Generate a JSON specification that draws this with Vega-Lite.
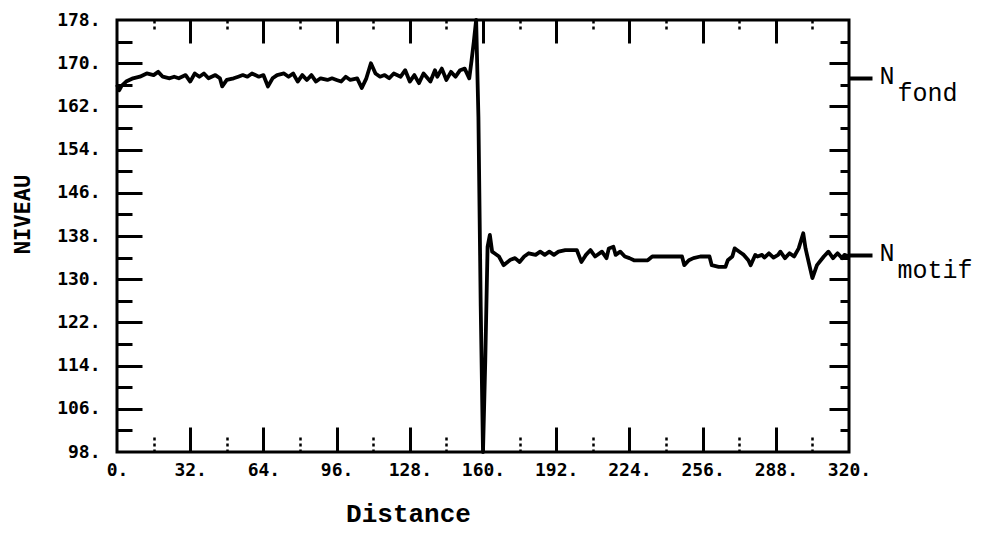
{
  "$schema": "https://vega.github.io/schema/vega-lite/v6.json",
  "width": 732,
  "height": 432,
  "autosize": {"type": "none"},
  "padding": {"left": 117, "top": 20, "right": 142, "bottom": 81},
  "background": "white",
  "config": {
    "view": {"stroke": "black", "strokeWidth": 3},
    "axis": {"grid": false, "domain": false, "tickColor": "black", "labelColor": "black", "titleColor": "black"}
  },
  "data": {
    "values": [
      {"d": 0, "niveau": 166.0}, {"d": 1, "niveau": 165.0}, {"d": 2, "niveau": 165.8}, {"d": 4, "niveau": 166.6},
      {"d": 7, "niveau": 167.2}, {"d": 10, "niveau": 167.5}, {"d": 13, "niveau": 168.1}, {"d": 16, "niveau": 167.8},
      {"d": 18, "niveau": 168.4}, {"d": 20, "niveau": 167.5}, {"d": 23, "niveau": 167.2}, {"d": 25, "niveau": 167.5},
      {"d": 27, "niveau": 167.2}, {"d": 30, "niveau": 167.8}, {"d": 32, "niveau": 166.6}, {"d": 34, "niveau": 168.1},
      {"d": 36, "niveau": 167.5}, {"d": 38, "niveau": 168.1}, {"d": 40, "niveau": 167.2}, {"d": 43, "niveau": 167.8},
      {"d": 45, "niveau": 167.2}, {"d": 46, "niveau": 165.7}, {"d": 48, "niveau": 166.9}, {"d": 51, "niveau": 167.2},
      {"d": 53, "niveau": 167.5}, {"d": 55, "niveau": 167.8}, {"d": 57, "niveau": 167.5}, {"d": 59, "niveau": 168.1},
      {"d": 62, "niveau": 167.5}, {"d": 64, "niveau": 167.8}, {"d": 66, "niveau": 165.7}, {"d": 68, "niveau": 167.2},
      {"d": 70, "niveau": 167.8}, {"d": 73, "niveau": 168.1}, {"d": 75, "niveau": 167.5}, {"d": 77, "niveau": 168.1},
      {"d": 79, "niveau": 166.6}, {"d": 81, "niveau": 167.8}, {"d": 83, "niveau": 166.9}, {"d": 85, "niveau": 167.8},
      {"d": 87, "niveau": 166.6}, {"d": 89, "niveau": 167.2}, {"d": 92, "niveau": 166.9}, {"d": 94, "niveau": 167.2},
      {"d": 96, "niveau": 166.9}, {"d": 98, "niveau": 166.6}, {"d": 100, "niveau": 167.5}, {"d": 102, "niveau": 166.9},
      {"d": 105, "niveau": 167.2}, {"d": 107, "niveau": 165.4}, {"d": 109, "niveau": 167.2}, {"d": 111, "niveau": 170.0},
      {"d": 113, "niveau": 168.1}, {"d": 115, "niveau": 167.5}, {"d": 117, "niveau": 167.8}, {"d": 119, "niveau": 167.2},
      {"d": 121, "niveau": 168.1}, {"d": 124, "niveau": 167.5}, {"d": 126, "niveau": 168.7}, {"d": 128, "niveau": 166.6},
      {"d": 130, "niveau": 167.8}, {"d": 132, "niveau": 166.3}, {"d": 134, "niveau": 168.1}, {"d": 137, "niveau": 166.6},
      {"d": 139, "niveau": 168.7}, {"d": 140, "niveau": 167.5}, {"d": 142, "niveau": 169.0}, {"d": 144, "niveau": 166.9},
      {"d": 146, "niveau": 168.4}, {"d": 148, "niveau": 167.5}, {"d": 150, "niveau": 168.7}, {"d": 152, "niveau": 169.0},
      {"d": 154, "niveau": 167.2}, {"d": 155, "niveau": 170.5}, {"d": 156, "niveau": 174.0}, {"d": 157, "niveau": 178.0},
      {"d": 158, "niveau": 160.0}, {"d": 159, "niveau": 125.0}, {"d": 160, "niveau": 98.0}, {"d": 161, "niveau": 115.0},
      {"d": 162, "niveau": 136.0}, {"d": 163, "niveau": 138.2}, {"d": 164, "niveau": 135.1}, {"d": 165, "niveau": 134.8},
      {"d": 167, "niveau": 134.2}, {"d": 169, "niveau": 132.6}, {"d": 172, "niveau": 133.6}, {"d": 174, "niveau": 133.9},
      {"d": 176, "niveau": 133.2}, {"d": 178, "niveau": 134.2}, {"d": 180, "niveau": 134.8}, {"d": 183, "niveau": 134.5},
      {"d": 185, "niveau": 135.1}, {"d": 187, "niveau": 134.5}, {"d": 189, "niveau": 135.1}, {"d": 191, "niveau": 134.5},
      {"d": 193, "niveau": 135.1}, {"d": 196, "niveau": 135.4}, {"d": 201, "niveau": 135.4}, {"d": 203, "niveau": 133.2},
      {"d": 205, "niveau": 134.5}, {"d": 207, "niveau": 135.4}, {"d": 209, "niveau": 134.2}, {"d": 212, "niveau": 135.1},
      {"d": 214, "niveau": 133.9}, {"d": 215, "niveau": 135.7}, {"d": 217, "niveau": 136.0}, {"d": 218, "niveau": 134.5},
      {"d": 220, "niveau": 135.1}, {"d": 222, "niveau": 134.2}, {"d": 224, "niveau": 133.9}, {"d": 226, "niveau": 133.5},
      {"d": 232, "niveau": 133.5}, {"d": 234, "niveau": 134.2}, {"d": 236, "niveau": 134.2}, {"d": 247, "niveau": 134.2},
      {"d": 248, "niveau": 132.6}, {"d": 250, "niveau": 133.5}, {"d": 252, "niveau": 133.9}, {"d": 255, "niveau": 134.2},
      {"d": 259, "niveau": 134.2}, {"d": 260, "niveau": 132.6}, {"d": 263, "niveau": 132.3}, {"d": 266, "niveau": 132.3},
      {"d": 267, "niveau": 133.5}, {"d": 269, "niveau": 134.2}, {"d": 270, "niveau": 135.7}, {"d": 271, "niveau": 135.4},
      {"d": 273, "niveau": 134.8}, {"d": 274, "niveau": 134.5}, {"d": 276, "niveau": 133.5}, {"d": 277, "niveau": 132.6},
      {"d": 279, "niveau": 134.5}, {"d": 280, "niveau": 134.2}, {"d": 282, "niveau": 134.5}, {"d": 283, "niveau": 134.0},
      {"d": 285, "niveau": 134.8}, {"d": 287, "niveau": 134.0}, {"d": 289, "niveau": 134.5}, {"d": 290, "niveau": 135.1},
      {"d": 292, "niveau": 133.9}, {"d": 294, "niveau": 134.8}, {"d": 296, "niveau": 134.2}, {"d": 298, "niveau": 135.7},
      {"d": 300, "niveau": 138.5}, {"d": 301, "niveau": 135.7}, {"d": 303, "niveau": 132.0}, {"d": 304, "niveau": 130.2},
      {"d": 306, "niveau": 132.6}, {"d": 309, "niveau": 134.2}, {"d": 311, "niveau": 135.1}, {"d": 313, "niveau": 133.9},
      {"d": 315, "niveau": 134.8}, {"d": 317, "niveau": 133.9}, {"d": 318, "niveau": 134.5}, {"d": 320, "niveau": 134.2}
    ]
  },
  "layer": [
    {
      "mark": {"type": "line", "color": "black", "strokeWidth": 3.8, "strokeJoin": "round"},
      "encoding": {
        "x": {"field": "d", "type": "quantitative", "scale": {"domain": [0, 320], "nice": false, "zero": false},
          "axis": {"orient": "bottom", "values": [0, 32, 64, 96, 128, 160, 192, 224, 256, 288, 320], "ticks": false,
            "labelExpr": "datum.label + '.'", "labelFont": "DejaVu Sans Mono", "labelFontWeight": "bold", "labelFontSize": 18,
            "labelPadding": 9, "labelFlush": false, "labelOverlap": false,
            "title": "Distance", "titleFont": "Liberation Mono", "titleFontSize": 26, "titleFontWeight": "bold",
            "titleX": 291, "titleY": 69, "titleAlign": "center", "titleBaseline": "alphabetic"}},
        "y": {"field": "niveau", "type": "quantitative", "scale": {"domain": [98, 178], "nice": false, "zero": false},
          "axis": {"orient": "left", "values": [98, 106, 114, 122, 130, 138, 146, 154, 162, 170, 178], "ticks": false,
            "labelExpr": "datum.label + '.'", "labelFont": "DejaVu Sans Mono", "labelFontWeight": "bold", "labelFontSize": 18,
            "labelPadding": 17, "labelFlush": false, "labelOverlap": false, "labelBaseline": "middle",
            "title": "NIVEAU", "titleFont": "DejaVu Sans Mono", "titleFontSize": 22, "titleFontWeight": "bold",
            "titleAngle": 270, "titleX": -95, "titleY": 194, "titleAlign": "center", "titleBaseline": "middle"}}
      }
    },
    {
      "mark": {"type": "point", "opacity": 0},
      "encoding": {
        "x": {"field": "d", "type": "quantitative", "scale": {"domain": [0, 320], "nice": false, "zero": false},
          "axis": {"orient": "bottom", "values": [32, 64, 96, 128, 160, 192, 224, 256, 288], "labels": false, "title": null,
            "tickSize": -25, "tickWidth": 3}},
        "y": {"field": "niveau", "type": "quantitative", "scale": {"domain": [98, 178], "nice": false, "zero": false},
          "axis": {"orient": "left", "values": [106, 114, 122, 130, 138, 146, 154, 162, 170], "labels": false, "title": null,
            "tickSize": -25, "tickWidth": 3}}
      }
    },
    {
      "mark": {"type": "point", "opacity": 0},
      "encoding": {
        "x": {"field": "d", "type": "quantitative", "scale": {"domain": [0, 320], "nice": false, "zero": false},
          "axis": {"orient": "bottom", "values": [16, 48, 80, 112, 144, 176, 208, 240, 272, 304], "labels": false, "title": null,
            "tickSize": -17, "tickWidth": 2.5, "tickDash": [3, 3]}},
        "y": {"field": "niveau", "type": "quantitative", "scale": {"domain": [98, 178], "nice": false, "zero": false},
          "axis": {"orient": "left", "values": [102, 110, 118, 126, 134, 142, 150, 158, 166, 174], "labels": false, "title": null,
            "tickSize": -15, "tickWidth": 3}}
      }
    },
    {
      "mark": {"type": "point", "opacity": 0},
      "encoding": {
        "x": {"field": "d", "type": "quantitative", "scale": {"domain": [0, 320], "nice": false, "zero": false},
          "axis": {"orient": "top", "values": [32, 64, 96, 128, 160, 192, 224, 256, 288], "labels": false, "title": null,
            "tickSize": -23, "tickWidth": 3}},
        "y": {"field": "niveau", "type": "quantitative", "scale": {"domain": [98, 178], "nice": false, "zero": false},
          "axis": {"orient": "right", "values": [106, 114, 122, 130, 138, 146, 154, 162, 170], "labels": false, "title": null,
            "tickSize": -20, "tickWidth": 3}}
      }
    },
    {
      "mark": {"type": "point", "opacity": 0},
      "encoding": {
        "x": {"field": "d", "type": "quantitative", "scale": {"domain": [0, 320], "nice": false, "zero": false},
          "axis": {"orient": "top", "values": [16, 48, 80, 112, 144, 176, 208, 240, 272, 304], "labels": false, "title": null,
            "tickSize": -12, "tickWidth": 2.5, "tickDash": [3, 3]}},
        "y": {"field": "niveau", "type": "quantitative", "scale": {"domain": [98, 178], "nice": false, "zero": false},
          "axis": {"orient": "right", "values": [102, 110, 118, 126, 134, 142, 150, 158, 166, 174], "labels": false, "title": null,
            "tickSize": -9, "tickWidth": 3}}
      }
    },
    {
      "mark": {"type": "point", "opacity": 0},
      "encoding": {
        "x": {"field": "d", "type": "quantitative", "scale": {"domain": [0, 320], "nice": false, "zero": false}, "axis": null},
        "y": {"field": "niveau", "type": "quantitative", "scale": {"domain": [98, 178], "nice": false, "zero": false},
          "axis": {"orient": "right", "values": [167.3, 134.5], "title": null, "tickSize": 23, "tickWidth": 4,
            "labelExpr": "'N'", "labelFont": "Liberation Mono", "labelFontSize": 25, "labelPadding": 7,
            "labelBaseline": "alphabetic", "labelOffset": 6, "labelAlign": "left", "labelFlush": false, "labelOverlap": false}}
      }
    },
    {
      "mark": {"type": "point", "opacity": 0},
      "encoding": {
        "x": {"field": "d", "type": "quantitative", "scale": {"domain": [0, 320], "nice": false, "zero": false}, "axis": null},
        "y": {"field": "niveau", "type": "quantitative", "scale": {"domain": [98, 178], "nice": false, "zero": false},
          "axis": {"orient": "right", "values": [167.3, 134.5], "title": null, "ticks": false,
            "labelExpr": "datum.value > 150 ? 'fond' : 'motif'", "labelFont": "Liberation Mono", "labelFontSize": 25, "labelPadding": 48,
            "labelBaseline": "alphabetic", "labelOffset": 23, "labelAlign": "left", "labelFlush": false, "labelOverlap": false}}
      }
    }
  ],
  "resolve": {
    "scale": {"x": "independent", "y": "independent"},
    "axis": {"x": "independent", "y": "independent"}
  }
}
